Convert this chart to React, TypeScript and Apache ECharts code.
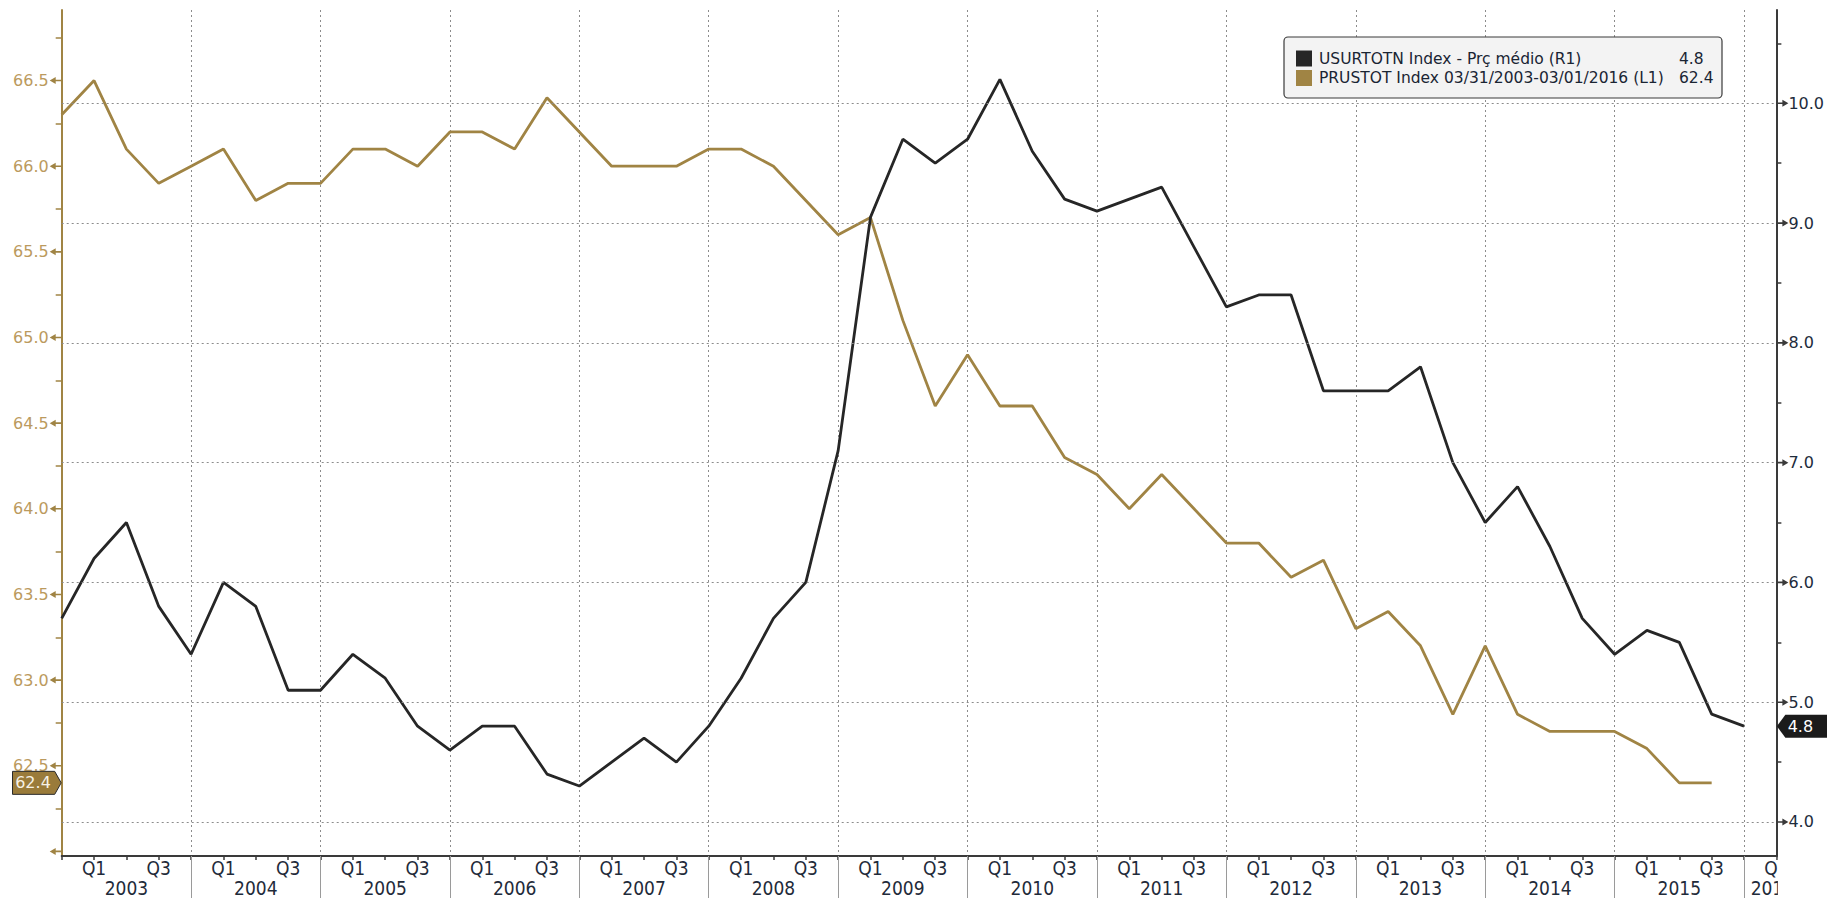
import { useEffect, useRef } from "react";
import * as echarts from "echarts";

// ---------- data ----------
const years = [2003, 2004, 2005, 2006, 2007, 2008, 2009, 2010, 2011, 2012, 2013, 2014, 2015, 2016];
const quarterSlots = ["", "Q1", "Q2", "Q3"];

// USURTOTN Index (right axis), quarterly points from start of 2003 to end of 2015
const unemploymentRate = [
  5.7, 6.2, 6.5, 5.8, 5.4, 6.0, 5.8, 5.1, 5.1, 5.4,
  5.2, 4.8, 4.6, 4.8, 4.8, 4.4, 4.3, 4.5, 4.7, 4.5,
  4.8, 5.2, 5.7, 6.0, 7.1, 9.05, 9.7, 9.5, 9.7, 10.2,
  9.6, 9.2, 9.1, 9.2, 9.3, 8.8, 8.3, 8.4, 8.4, 7.6,
  7.6, 7.6, 7.8, 7.0, 6.5, 6.8, 6.3, 5.7, 5.4, 5.6,
  5.5, 4.9, 4.8,
];

// PRUSTOT Index (left axis)
const participationRate = [
  66.3, 66.5, 66.1, 65.9, 66.0, 66.1, 65.8, 65.9, 65.9, 66.1,
  66.1, 66.0, 66.2, 66.2, 66.1, 66.4, 66.2, 66.0, 66.0, 66.0,
  66.1, 66.1, 66.0, 65.8, 65.6, 65.7, 65.1, 64.6, 64.9, 64.6,
  64.6, 64.3, 64.2, 64.0, 64.2, 64.0, 63.8, 63.8, 63.6, 63.7,
  63.3, 63.4, 63.2, 62.8, 63.2, 62.8, 62.7, 62.7, 62.7, 62.6,
  62.4, 62.4,
];

const leftLabelValues = [62.5, 63.0, 63.5, 64.0, 64.5, 65.0, 65.5, 66.0, 66.5];
const leftMajorTicks = [62.0, 62.5, 63.0, 63.5, 64.0, 64.5, 65.0, 65.5, 66.0, 66.5];
const leftMinorTicks = [62.25, 62.75, 63.25, 63.75, 64.25, 64.75, 65.25, 65.75, 66.25, 66.75];
const rightLabelValues = [4, 5, 6, 7, 8, 9, 10];
const rightMinorTicks = [4.5, 5.5, 6.5, 7.5, 8.5, 9.5, 10.5];

const legendNames = ["USURTOTN Index - Prç médio (R1)", "PRUSTOT Index 03/31/2003-03/01/2016 (L1)"];
const lastValues = ["4.8", "62.4"];
const lastUnemployment = 4.8;
const lastParticipation = 62.4;

const categories: string[] = Array.from({ length: 54 }, (_, k) => `${years[Math.floor(k / 4)]}|${quarterSlots[k % 4]}`);

// ---------- styles ----------
const GOLD = "#a08444";
const BLACK = "#262626";
const GRID = "#8c8c8c";
const AXIS_DARK = "#3a3a3a";
const X_FONT = "'Liberation Sans Narrow', 'DejaVu Sans Condensed', 'Arial Narrow', sans-serif";
const Y_FONT = "'DejaVu Sans', Verdana, sans-serif";

export default function App() {
  const ref = useRef<HTMLDivElement>(null);

  useEffect(() => {
    if (!ref.current) return;
    const chart = echarts.init(ref.current, null, { renderer: "svg" });

    const option: any = {
      animation: false,
      backgroundColor: "#ffffff",
      grid: { left: 61.7, right: 48.6, top: 10, bottom: 42, containLabel: false },
      xAxis: [
        {
          type: "category",
          data: categories,
          boundaryGap: false,
          position: "bottom",
          axisLine: { show: true, lineStyle: { color: AXIS_DARK, width: 2 } },
          axisTick: { show: true, interval: 0, length: 4, lineStyle: { color: AXIS_DARK, width: 1.5 } },
          axisLabel: {
            show: true,
            interval: (i: number) => i % 4 === 1 || i % 4 === 3,
            formatter: (v: string) => v.split("|")[1],
            color: "#1f2b3a",
            fontFamily: X_FONT,
            fontSize: 19,
            margin: 2,
          },
          splitLine: {
            show: true,
            interval: (i: number) => i > 0 && i % 4 === 0,
            lineStyle: { color: GRID, type: [2, 3], width: 1 },
          },
        },
        {
          type: "category",
          data: categories,
          boundaryGap: false,
          position: "bottom",
          axisLine: { show: false },
          axisTick: {
            show: true,
            interval: (i: number) => i > 0 && i % 4 === 0,
            length: 44,
            lineStyle: { color: "#9a9a9a", width: 1 },
          },
          axisLabel: {
            show: true,
            interval: (i: number) => i % 4 === 2 || i === 53,
            formatter: (v: string, i: number) => (i === 53 ? `{last|${v.split("|")[0]}}` : v.split("|")[0]),
            color: "#1f2b3a",
            fontFamily: X_FONT,
            fontSize: 19,
            margin: 22,
            rich: {
              last: { color: "#1f2b3a", fontFamily: X_FONT, fontSize: 19, padding: [0, 8, 0, 0] },
            },
          },
          splitLine: { show: false },
        },
      ],
      yAxis: [
        {
          type: "value",
          position: "left",
          min: 61.973,
          max: 66.912,
          axisLine: { show: true, lineStyle: { color: GOLD, width: 2 } },
          axisTick: { show: true, customValues: leftMinorTicks, length: 6, lineStyle: { color: GOLD, width: 1.5 } },
          axisLabel: {
            show: true,
            customValues: leftLabelValues,
            formatter: (v: number) => Number(v).toFixed(1),
            color: "#bb9a5e",
            fontFamily: Y_FONT,
            fontSize: 16,
            margin: 13,
          },
          splitLine: { show: false },
        },
        {
          type: "value",
          position: "right",
          min: 3.716,
          max: 10.779,
          axisLine: { show: true, lineStyle: { color: AXIS_DARK, width: 2 } },
          axisTick: { show: true, customValues: rightMinorTicks, length: 5, lineStyle: { color: AXIS_DARK, width: 1.5 } },
          axisLabel: {
            show: true,
            customValues: rightLabelValues,
            formatter: (v: number) => Number(v).toFixed(1),
            color: "#1e2c3c",
            fontFamily: Y_FONT,
            fontSize: 16,
            margin: 12,
          },
          splitLine: { show: false },
        },
      ],
      series: [
        {
          name: legendNames[1],
          type: "line",
          data: participationRate,
          xAxisIndex: 0,
          yAxisIndex: 0,
          showSymbol: false,
          symbol: "none",
          lineStyle: { color: GOLD, width: 2.8 },
          z: 3,
        },
        {
          name: legendNames[0],
          type: "line",
          data: unemploymentRate,
          xAxisIndex: 0,
          yAxisIndex: 1,
          showSymbol: false,
          symbol: "none",
          lineStyle: { color: BLACK, width: 2.8 },
          z: 4,
          markLine: {
            silent: true,
            symbol: ["none", "none"],
            label: { show: false },
            lineStyle: { color: GRID, type: [2, 3], width: 1 },
            data: rightLabelValues.map((v) => ({ yAxis: v })),
          },
        },
      ],
    };

    chart.setOption(option);

    const axL = chart.convertToPixel({ xAxisIndex: 0 }, 0) as number;
    const axR = chart.convertToPixel({ xAxisIndex: 0 }, 53) as number;
    const gridBottom = chart.convertToPixel({ yAxisIndex: 0 }, 61.973) as number;

    const graphics: any[] = [];

    // major tick arrows (left, gold, pointing left)
    leftMajorTicks.forEach((v) => {
      const y = chart.convertToPixel({ yAxisIndex: 0 }, v) as number;
      graphics.push({
        type: "polygon",
        z: 50,
        shape: {
          points: [
            [axL, y - 0.8], [axL - 6, y - 0.8], [axL - 6, y - 3.5], [axL - 12, y],
            [axL - 6, y + 3.5], [axL - 6, y + 0.8], [axL, y + 0.8],
          ],
        },
        style: { fill: GOLD },
      });
    });
    // major tick arrows (right, dark, pointing right)
    rightLabelValues.forEach((v) => {
      const y = chart.convertToPixel({ yAxisIndex: 1 }, v) as number;
      graphics.push({
        type: "polygon",
        z: 50,
        shape: {
          points: [
            [axR, y - 0.8], [axR + 6, y - 0.8], [axR + 6, y - 3.5], [axR + 12, y],
            [axR + 6, y + 3.5], [axR + 6, y + 0.8], [axR, y + 0.8],
          ],
        },
        style: { fill: AXIS_DARK },
      });
    });

    // cover for clipped labels beyond right axis
    graphics.push({
      type: "rect",
      z: 60,
      shape: { x: axR + 1.5, y: gridBottom + 2, width: 80, height: 60 },
      style: { fill: "#ffffff" },
    });

    // last-value tags
    const yR = chart.convertToPixel({ yAxisIndex: 1 }, lastUnemployment) as number;
    graphics.push({
      type: "polygon",
      z: 70,
      shape: {
        points: [[axR + 0.5, yR], [axR + 9, yR - 11.5], [1830, yR - 11.5], [1830, yR + 11.5], [axR + 9, yR + 11.5]],
      },
      style: { fill: "#1b1b1b" },
    });
    graphics.push({
      type: "text",
      z: 71,
      x: axR + 24,
      y: yR,
      style: { text: lastValues[0], fill: "#ffffff", font: `16px ${Y_FONT}`, textAlign: "center", textVerticalAlign: "middle" },
    });

    const yL = chart.convertToPixel({ yAxisIndex: 0 }, lastParticipation) as number;
    graphics.push({
      type: "polygon",
      z: 70,
      shape: {
        points: [[12.5, yL - 11.5], [axL - 7, yL - 11.5], [axL - 0.5, yL], [axL - 7, yL + 11.5], [12.5, yL + 11.5]],
      },
      style: { fill: "#9a7b3a", stroke: "#2a2a2a", lineWidth: 1 },
    });
    graphics.push({
      type: "text",
      z: 71,
      x: 33,
      y: yL,
      style: { text: lastValues[1], fill: "#f6f1e6", font: `16px ${Y_FONT}`, textAlign: "center", textVerticalAlign: "middle" },
    });

    // legend box
    const lx = 1284;
    const ly = 37;
    graphics.push({
      type: "rect",
      z: 80,
      shape: { x: lx, y: ly, width: 438, height: 61, r: 4 },
      style: { fill: "#f3f3f3", stroke: "#3a3a3a", lineWidth: 1.2 },
    });
    const rowY = [58.5, 78];
    const rowColors = [BLACK, GOLD];
    legendNames.forEach((name, i) => {
      graphics.push({
        type: "rect",
        z: 81,
        shape: { x: 1296, y: rowY[i] - 8, width: 16, height: 16 },
        style: { fill: rowColors[i] },
      });
      graphics.push({
        type: "text",
        z: 81,
        x: 1319,
        y: rowY[i],
        style: { text: name, fill: "#1a2533", font: `15.5px ${Y_FONT}`, textAlign: "left", textVerticalAlign: "middle" },
      });
      graphics.push({
        type: "text",
        z: 81,
        x: 1679,
        y: rowY[i],
        style: { text: lastValues[i], fill: "#1a2533", font: `15.5px ${Y_FONT}`, textAlign: "left", textVerticalAlign: "middle" },
      });
    });

    chart.setOption({ graphic: graphics });

    return () => {
      chart.dispose();
    };
  }, []);

  return (
    <div
      ref={ref}
      style={{ position: "absolute", left: 0, top: 0, width: 1827, height: 898, background: "#ffffff" }}
    />
  );
}
